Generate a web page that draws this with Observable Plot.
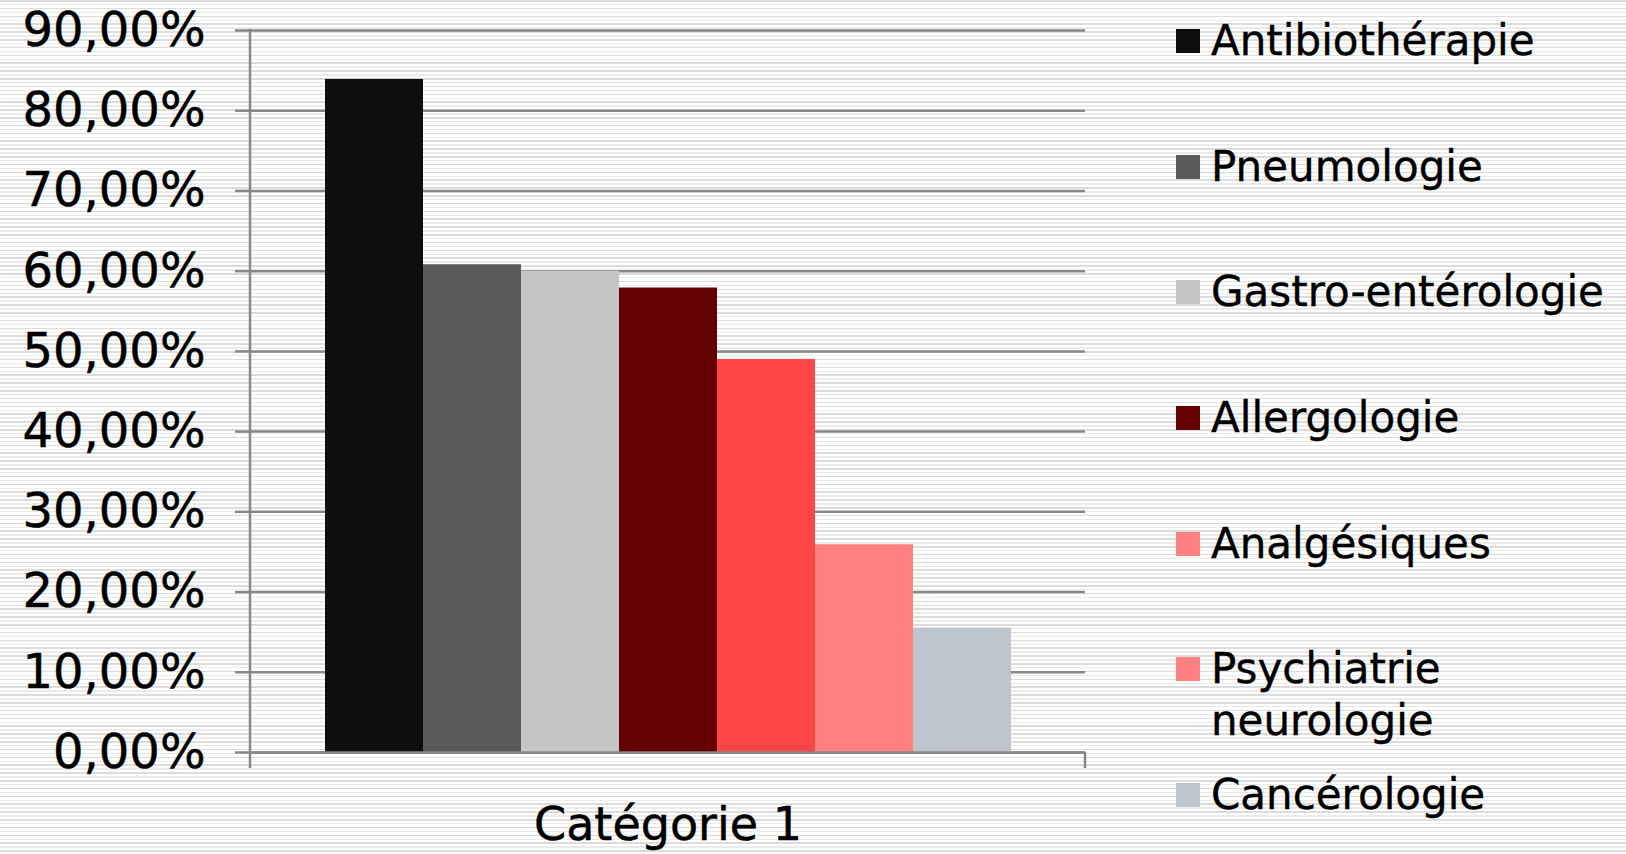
<!DOCTYPE html>
<html>
<head>
<meta charset="utf-8">
<script src="https://cdn.jsdelivr.net/npm/d3@7"></script>
<script src="https://cdn.jsdelivr.net/npm/@observablehq/plot@0.6"></script>
<style>
  html, body { margin: 0; padding: 0; }
  body {
    width: 1626px; height: 854px; overflow: hidden; position: relative;
    font-family: "DejaVu Sans", Verdana, sans-serif;
    background: repeating-linear-gradient(to bottom,
      #dcdcdc 0px, #dcdcdc 1.5px, #ffffff 1.5px, #ffffff 3.9px,
      #ebebeb 3.9px, #ebebeb 5.4px, #ffffff 5.4px, #ffffff 7.8px);
  }
  #chart { position: absolute; left: 0; top: 0; }
  #chart text { stroke: #000; stroke-width: 0.5px; paint-order: stroke; }
  #legend { position: absolute; left: 1176px; top: 15px; }
  .item { display: flex; align-items: flex-start; height: 125.7px; }
  .swatch { width: 24px; height: 24px; margin-top: 14px; flex: none; }
  .label { margin-left: 11px; width: 410px; font-size: 42px; line-height: 52px; color: #000; -webkit-text-stroke: 0.4px #000; }
</style>
</head>
<body>
<div id="chart"></div>
<div id="legend"></div>
<script>
// Share of each speciality (percent)
const series = ["Antibiothérapie", "Pneumologie", "Gastro-entérologie", "Allergologie", "Analgésiques", "Psychiatrie neurologie", "Cancérologie"];
const values = [83.9, 60.8, 60.0, 57.9, 49.0, 25.9, 15.5];
const barColors = ["#0e0e0e", "#5a5a5a", "#c5c5c5", "#650000", "#ff4646", "#ff8080", "#bfc5cf"];
const legendColors = ["#0e0e0e", "#5a5a5a", "#c5c5c5", "#650000", "#ff8080", "#ff8080", "#bfc5cf"];
const category = "Catégorie 1";
const yTicks = [0, 10, 20, 30, 40, 50, 60, 70, 80, 90];

const data = series.map((s, i) => ({series: s, value: values[i]}));
const axisGray = "#878787";
const font = "'DejaVu Sans', Verdana, sans-serif";

// Axis line on the left and the closing tick under the right end of the category axis
function axisFrame(index, scales, values, dims) {
  const g = d3.create("svg:g").attr("stroke", axisGray).attr("stroke-width", 2.5);
  const y0 = scales.y(0);
  const left = dims.marginLeft;
  const right = dims.width - dims.marginRight;
  g.append("line").attr("x1", left).attr("x2", left).attr("y1", scales.y(90) - 1.25).attr("y2", y0 + 16);
  g.append("line").attr("x1", right).attr("x2", right).attr("y1", y0).attr("y2", y0 + 16);
  return g.node();
}

const chart = Plot.plot({
  width: 1140,
  height: 854,
  marginLeft: 250,
  marginRight: 55,
  marginTop: 30,
  marginBottom: 102,
  style: {background: "transparent", fontFamily: font, color: "#000"},
  x: {domain: series, paddingInner: 0, paddingOuter: 0.742, axis: null},
  y: {domain: [0, 90]},
  color: {domain: series, range: barColors},
  marks: [
    Plot.gridY(yTicks, {stroke: axisGray, strokeOpacity: 1, strokeWidth: 2.5}),
    Plot.axisY(yTicks, {
      tickSize: 15, tickPadding: 30, stroke: axisGray, strokeWidth: 2.5, strokeOpacity: 1,
      fill: "#000", fontSize: 48, label: null,
      tickFormat: d => d.toFixed(2).replace(".", ",") + "%"
    }),
    Plot.barY(data, {x: "series", y: "value", fill: "series"}),
    Plot.ruleY([0], {stroke: axisGray, strokeWidth: 2.5}),
    axisFrame,
    Plot.text([category], {frameAnchor: "bottom", lineAnchor: "top", dy: 55, fontSize: 46, fill: "#000"})
  ]
});
document.getElementById("chart").append(chart);

// Legend beside the plot
const legend = d3.select("#legend");
series.forEach((s, i) => {
  const item = legend.append("div").attr("class", "item");
  item.append("div").attr("class", "swatch").style("background", legendColors[i]);
  item.append("div").attr("class", "label").text(s);
});
</script>
</body>
</html>
